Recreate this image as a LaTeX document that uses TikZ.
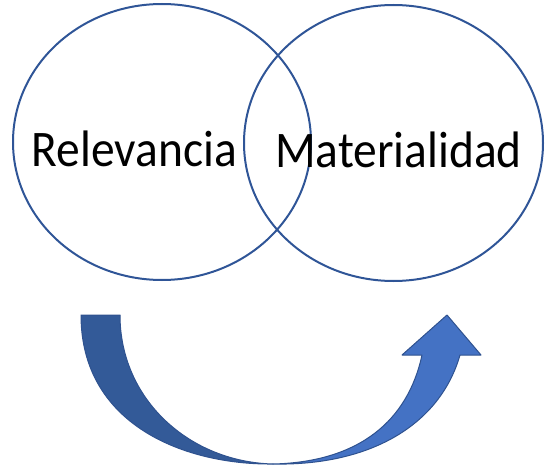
\documentclass[tikz,border=0pt]{standalone}
\usepackage{fontspec}
\setmainfont{Carlito}
\definecolor{ringblue}{HTML}{2F5597}
\definecolor{backblue}{HTML}{335A98}
\definecolor{frontblue}{HTML}{4472C4}
\definecolor{edgeblue}{HTML}{2F528F}
\tikzset{
  ring/.style={draw=ringblue, line width=2pt},
  word/.style={anchor=base, inner sep=0pt, font=\fontsize{47.5}{52}\selectfont, yscale=1.08},
  bandpart/.style={draw=edgeblue, line width=1pt, line join=round}
}
\begin{document}
\begin{tikzpicture}[x=1pt, y=-1pt]
    \useasboundingbox (0,0) rectangle (552,476);
    \draw[ring] (162,142) ellipse (149pt and 138pt);
    \draw[ring] (393.5,143) ellipse (149.5pt and 138pt);
    \node[word] (rel) at (134.5,167) {Relevancia};
    \node[word] (mat) at (398.5,168) {Materialidad};
    % curved arrow: dark back half, light front half with head
    \coordinate (bot) at (273,464);
    \fill[backblue, bandpart] (81,315) -- (120,315)
      .. controls (120,400) and (190,462) .. (bot)
      .. controls (185,465) and (81,425) .. (81,315) -- cycle;
    \fill[frontblue, bandpart] (bot)
      .. controls (360,462) and (408,420) .. (422,355)
      -- (402,355) -- (447,315) -- (481,355) -- (460,355)
      .. controls (440,425) and (370,466) .. (bot) -- cycle;
\end{tikzpicture}
\end{document}
